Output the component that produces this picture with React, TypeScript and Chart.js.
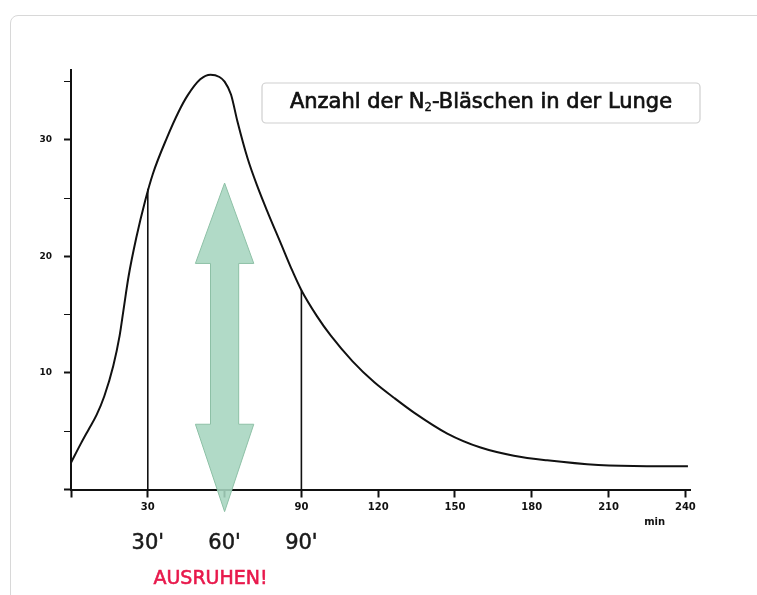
import React, { useEffect, useRef } from 'react';
import { Chart, registerables } from 'chart.js';

Chart.register(...registerables);

// ---- data ----
const minutes = [0, 4, 7, 10, 13, 16.5, 19, 20.5, 22.5, 25.5, 29, 32, 37.5, 42, 45.5, 50.5, 54.5, 58, 60, 62.5, 65, 69, 73, 77, 82, 86, 90, 96, 101.5, 110, 118.5, 126, 134, 147, 160, 173, 186, 206, 225, 241];
const bubbles = [2.3, 4.0, 5.2, 6.4, 8.0, 10.6, 13.2, 15.4, 18.3, 21.6, 24.8, 27.1, 30.2, 32.4, 33.8, 35.2, 35.6, 35.4, 35.0, 33.9, 31.6, 28.4, 25.9, 23.7, 21.1, 19.0, 17.1, 14.9, 13.2, 11.0, 9.2, 7.9, 6.6, 4.8, 3.6, 2.9, 2.5, 2.1, 2.0, 2.0];
const markerMinutes = [30, 90];
const markerHeights = [25.8, 17.1];
const bottomLabelMinutes = [30, 60, 90];
const bottomLabels = ["30'", "60'", "90'"];
const hiddenXTicks = [0, 60];
const yLabelTicks = [10, 20, 30];
const legendParts = ['Anzahl der N', '2', '-Bläschen in der Lunge'];
const restLabel = 'AUSRUHEN!';
const unitLabel = 'min';
const restCenterMinute = 54.5;
const unitLabelMinute = 228;

// arrow (data units)
const arrowMinute = 60;
const arrowTop = 26.3;
const arrowHeadBaseTop = 19.4;
const arrowHeadBaseBottom = 5.6;
const arrowBottom = -1.9;
const arrowHeadHalf = 11.4;
const arrowShaftHalf = 5.5;

const FONT = '"Comic Sans MS", "DejaVu Sans", sans-serif';

function boldText(ctx: CanvasRenderingContext2D, s: string, x: number, y: number, w: number) {
  ctx.fillText(s, x, y);
  ctx.lineWidth = w;
  ctx.strokeStyle = ctx.fillStyle as string;
  ctx.strokeText(s, x, y);
}

const decorPlugin = {
  id: 'decor',
  afterDatasetsDraw(chart: any) {
    const ctx = chart.ctx as CanvasRenderingContext2D;
    const xs = chart.scales.x;
    const ys = chart.scales.y;
    const px = (v: number) => xs.getPixelForValue(v);
    const py = (v: number) => ys.getPixelForValue(v);
    ctx.save();
    ctx.beginPath();
    ctx.moveTo(px(arrowMinute), py(arrowTop));
    ctx.lineTo(px(arrowMinute + arrowHeadHalf), py(arrowHeadBaseTop));
    ctx.lineTo(px(arrowMinute + arrowShaftHalf), py(arrowHeadBaseTop));
    ctx.lineTo(px(arrowMinute + arrowShaftHalf), py(arrowHeadBaseBottom));
    ctx.lineTo(px(arrowMinute + arrowHeadHalf), py(arrowHeadBaseBottom));
    ctx.lineTo(px(arrowMinute), py(arrowBottom));
    ctx.lineTo(px(arrowMinute - arrowHeadHalf), py(arrowHeadBaseBottom));
    ctx.lineTo(px(arrowMinute - arrowShaftHalf), py(arrowHeadBaseBottom));
    ctx.lineTo(px(arrowMinute - arrowShaftHalf), py(arrowHeadBaseTop));
    ctx.lineTo(px(arrowMinute - arrowHeadHalf), py(arrowHeadBaseTop));
    ctx.closePath();
    ctx.globalAlpha = 0.88;
    ctx.fillStyle = '#a6d5bf';
    ctx.fill();
    ctx.globalAlpha = 1;
    ctx.strokeStyle = '#8dc0a6';
    ctx.lineWidth = 1;
    ctx.stroke();
    ctx.restore();
  },
  afterDraw(chart: any) {
    const ctx = chart.ctx as CanvasRenderingContext2D;
    const xs = chart.scales.x;
    const area = chart.chartArea;
    ctx.save();
    const bx = 262, by = 83, bw = 438, bh = 40, r = 4;
    ctx.beginPath();
    ctx.moveTo(bx + r, by);
    ctx.arcTo(bx + bw, by, bx + bw, by + bh, r);
    ctx.arcTo(bx + bw, by + bh, bx, by + bh, r);
    ctx.arcTo(bx, by + bh, bx, by, r);
    ctx.arcTo(bx, by, bx + bw, by, r);
    ctx.closePath();
    ctx.fillStyle = '#ffffff';
    ctx.fill();
    ctx.strokeStyle = '#cfcfcf';
    ctx.lineWidth = 1.2;
    ctx.stroke();
    const target = 414;
    let size = 20;
    const measure = (s: number) => {
      ctx.font = `${s}px ${FONT}`;
      const a = ctx.measureText(legendParts[0]).width;
      const c = ctx.measureText(legendParts[2]).width;
      ctx.font = `${s * 0.55}px ${FONT}`;
      const b = ctx.measureText(legendParts[1]).width;
      return a + b + c;
    };
    size = Math.min(21, size * target / measure(size));
    let tx = bx + bw / 2 - measure(size) / 2;
    const base = 108;
    ctx.fillStyle = '#111111';
    ctx.textBaseline = 'alphabetic';
    ctx.textAlign = 'left';
    ctx.font = `${size}px ${FONT}`;
    boldText(ctx, legendParts[0], tx, base, 0.7);
    tx += ctx.measureText(legendParts[0]).width;
    ctx.font = `${size * 0.55}px ${FONT}`;
    boldText(ctx, legendParts[1], tx, base + 3, 0.4);
    tx += ctx.measureText(legendParts[1]).width;
    ctx.font = `${size}px ${FONT}`;
    boldText(ctx, legendParts[2], tx, base, 0.7);

    ctx.font = `bold 10px "DejaVu Sans", sans-serif`;
    ctx.textAlign = 'center';
    ctx.textBaseline = 'middle';
    ctx.fillText(unitLabel, xs.getPixelForValue(unitLabelMinute), area.bottom + 33);

    ctx.font = `21px ${FONT}`;
    ctx.fillStyle = '#1a1a1a';
    ctx.textBaseline = 'alphabetic';
    bottomLabelMinutes.forEach((m, i) => {
      boldText(ctx, bottomLabels[i], xs.getPixelForValue(m), 549, 0.5);
    });
    ctx.font = `19px ${FONT}`;
    ctx.fillStyle = '#e8194c';
    boldText(ctx, restLabel, xs.getPixelForValue(restCenterMinute), 584, 0.6);
    ctx.restore();
  },
};

export default function App() {
  const ref = useRef<HTMLCanvasElement | null>(null);
  useEffect(() => {
    if (!ref.current) return;
    const markerSets = markerMinutes.map((m, i) => ({
      label: 'marker' + i,
      data: [{ x: m, y: 0 }, { x: m, y: markerHeights[i] }],
      borderColor: '#111111',
      borderWidth: 1.6,
      pointRadius: 0,
      tension: 0,
    }));
    const chart = new Chart(ref.current, {
      type: 'line',
      data: {
        datasets: [
          {
            label: 'Anzahl der N₂-Bläschen in der Lunge',
            data: minutes.map((m, i) => ({ x: m, y: bubbles[i] })),
            borderColor: '#111111',
            borderWidth: 2,
            pointRadius: 0,
            cubicInterpolationMode: 'monotone',
            clip: 6,
          } as any,
          ...markerSets,
        ],
      },
      options: {
        animation: false,
        responsive: false,
        devicePixelRatio: 1,
        layout: { padding: { left: 26, right: 66.5, top: 70, bottom: 75.5 } },
        plugins: { legend: { display: false }, tooltip: { enabled: false } },
        scales: {
          x: {
            type: 'linear',
            min: 0,
            max: 242,
            afterFit: (s: any) => { s.height = 30; },
            ticks: {
              stepSize: 30,
              includeBounds: false,
              autoSkip: false,
              maxRotation: 0,
              padding: 4,
              color: '#111111',
              font: { family: '"DejaVu Sans", sans-serif', size: 10, weight: 'bold' },
              callback: (v: any) => (hiddenXTicks.includes(Number(v)) ? '' : String(v)),
            },
            grid: { drawOnChartArea: false, drawTicks: true, tickLength: 8, tickColor: '#111111', tickWidth: 2 },
            border: { display: true, color: '#111111', width: 2 },
          },
          y: {
            type: 'linear',
            min: 0,
            max: 36,
            afterFit: (s: any) => { s.width = 45; },
            ticks: {
              stepSize: 5,
              includeBounds: false,
              autoSkip: false,
              padding: 12,
              color: '#111111',
              font: { family: '"DejaVu Sans", sans-serif', size: 9, weight: 'bold' },
              callback: (v: any) => (yLabelTicks.includes(Number(v)) ? String(v) : ''),
            },
            grid: {
              drawOnChartArea: false,
              drawTicks: true,
              tickLength: 7,
              tickColor: '#111111',
              tickWidth: (c: any) => (c.tick && c.tick.value % 10 === 0 ? 2 : 1),
            },
            border: { display: true, color: '#111111', width: 2 },
          },
        },
      } as any,
      plugins: [decorPlugin],
    });
    return () => chart.destroy();
  }, []);
  return (
    <div style={{ position: 'fixed', left: 0, top: 0, width: 757, height: 595, overflow: 'hidden', background: '#ffffff' }}>
      <div style={{ position: 'absolute', left: 10, top: 15, width: 900, height: 900, border: '1px solid #d8d8d8', borderRadius: 8, background: '#ffffff' }} />
      <canvas ref={ref} width={757} height={595} style={{ position: 'absolute', left: 0, top: 0, width: 757, height: 595 }} />
    </div>
  );
}
